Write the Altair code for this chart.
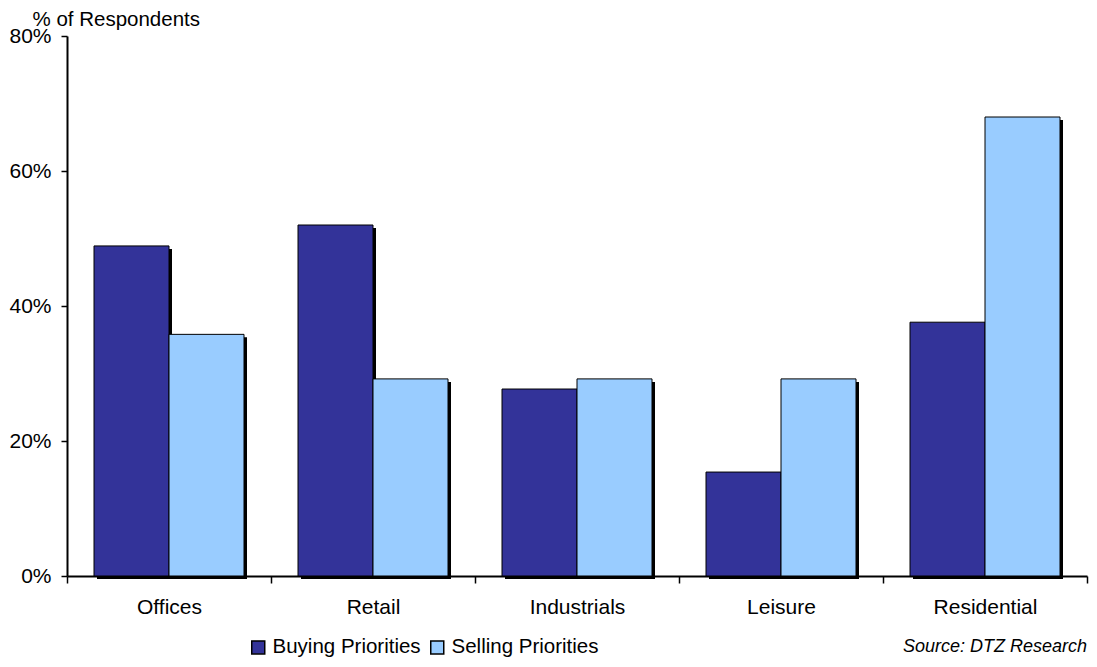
import altair as alt
import pandas as pd

categories = ["Offices", "Retail", "Industrials", "Leisure", "Residential"]
buying = [48.9, 52.0, 27.7, 15.4, 37.6]
selling = [35.8, 29.2, 29.2, 29.2, 68.0]
series_names = ["Buying Priorities", "Selling Priorities"]
series_colors = ["#333399", "#99CCFF"]
y_ticks = [0, 20, 40, 60, 80]
source_note = "Source: DTZ Research"

rows = []
for c, b, s in zip(categories, buying, selling):
    rows.append({"category": c, "series": series_names[0], "value": b})
    rows.append({"category": c, "series": series_names[1], "value": s})
df = pd.DataFrame(rows)

FONT = "Liberation Sans"
BAR_W = 75
SHADOW = 3

x_enc = alt.X(
    "category:N",
    sort=categories,
    scale=alt.Scale(paddingInner=0, paddingOuter=0),
    axis=alt.Axis(
        title=None,
        labelAngle=0,
        tickBand="extent",
        tickSize=7,
        tickWidth=1.5,
        tickColor="black",
        domainColor="black",
        domainWidth=2,
        labelFont=FONT,
        labelFontSize=21,
        labelColor="black",
        labelPadding=13,
    ),
)
y_enc = alt.Y(
    "value:Q",
    scale=alt.Scale(domain=[0, 80], nice=False),
    axis=alt.Axis(
        values=y_ticks,
        labelExpr="datum.value + '%'",
        grid=False,
        tickSize=6,
        tickWidth=1.5,
        tickColor="black",
        domainColor="black",
        domainWidth=2,
        labelFont=FONT,
        labelFontSize=21,
        labelColor="black",
        labelPadding=10,
        title="% of Respondents",
        titleAngle=0,
        titleAlign="left",
        titleBaseline="alphabetic",
        titleX=-35,
        titleY=-11,
        titleFont=FONT,
        titleFontSize=20.5,
        titleFontWeight="normal",
        titleColor="black",
    ),
)

color_enc = alt.Color(
    "series:N",
    scale=alt.Scale(domain=series_names, range=series_colors),
    legend=alt.Legend(
        title=None,
        orient="none",
        legendX=181,
        legendY=601,
        direction="horizontal",
        symbolType="square",
        symbolSize=169,
        symbolStrokeColor="black",
        symbolStrokeWidth=1.5,
        symbolOpacity=1,
        labelFont=FONT,
        labelFontSize=20.5,
        labelColor="black",
        labelOffset=4,
        columnPadding=6,
        padding=0,
    ),
)

layers = []
offsets = [-BAR_W / 2, BAR_W / 2]
for name, off in zip(series_names, offsets):
    layers.append(
        alt.Chart(df)
        .transform_filter(alt.datum.series == name)
        .mark_bar(width=BAR_W, color="black", xOffset=off + SHADOW, yOffset=SHADOW)
        .encode(x=x_enc, y=y_enc)
    )
for name, off in zip(series_names, offsets):
    layers.append(
        alt.Chart(df)
        .transform_filter(alt.datum.series == name)
        .mark_bar(width=BAR_W, xOffset=off, stroke="black", strokeWidth=1, opacity=1)
        .encode(x=x_enc, y=y_enc, color=color_enc)
    )

note = (
    alt.Chart(pd.DataFrame({"t": [source_note]}))
    .mark_text(align="right", baseline="middle", font=FONT, fontSize=18, fontStyle="italic", color="black")
    .encode(text="t:N", x=alt.value(1020), y=alt.value(611))
)
layers.append(note)

chart = (
    alt.layer(*layers)
    .properties(
        width=1020,
        height=540,
        autosize=alt.AutoSizeParams(type="none"),
        padding={"left": 59, "top": 28, "right": 2, "bottom": 83},
    )
    .configure_view(stroke=None)
)

chart.save("out.html", embed_options={"renderer": "svg", "actions": False})
